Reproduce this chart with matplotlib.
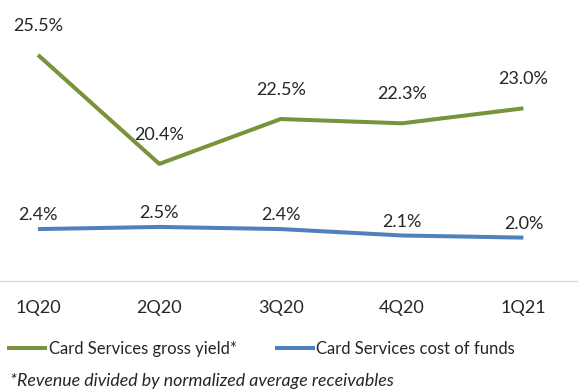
import matplotlib
matplotlib.use("Agg")
import matplotlib.pyplot as plt

quarters = ["1Q20", "2Q20", "3Q20", "4Q20", "1Q21"]
gross_yield = [25.5, 20.4, 22.5, 22.3, 23.0]
cost_of_funds = [2.4, 2.5, 2.4, 2.1, 2.0]

green = "#77933C"
blue = "#4F81BD"
txt = "#262626"

plt.rcParams["font.family"] = ["Lato", "DejaVu Sans"]

fig = plt.figure(figsize=(5.78, 3.92), dpi=100)
ax = fig.add_axes([0, 1 - 281 / 392, 1, 281 / 392])
ax2 = ax.twinx()

x = list(range(len(quarters)))

# green series on its own scale (broken axis look), blue on the other
g, = ax.plot(x, gross_yield, color=green, lw=2.9, solid_capstyle="butt")
b, = ax2.plot(x, cost_of_funds, color=blue, lw=2.9, solid_capstyle="butt")

ax.set_ylim(14.92, 28.07)
ax2.set_ylim(-0.03, 13.12)
ax.set_xlim(-0.313, 4.45)

for xi, v in zip(x, gross_yield):
    ax.annotate(f"{v:.1f}%", (xi, v), xytext=(0, 21), textcoords="offset points",
                ha="center", va="center", fontsize=13, color=txt)
for xi, v in zip(x, cost_of_funds):
    ax2.annotate(f"{v:.1f}%", (xi, v), xytext=(0, 10), textcoords="offset points",
                 ha="center", va="center", fontsize=13, color=txt)

for a in (ax, ax2):
    for s in ["top", "left", "right"]:
        a.spines[s].set_visible(False)
    a.set_yticks([])
ax2.spines["bottom"].set_visible(False)
ax.spines["bottom"].set_color("#d9d9d9")
ax.spines["bottom"].set_linewidth(1.0)

ax.set_xticks(x)
ax.set_xticklabels(quarters, fontsize=13, color=txt)
ax.tick_params(axis="x", length=0, pad=14)

fig.legend([g, b], ["Card Services gross yield*", "Card Services cost of funds"],
           loc="center left", bbox_to_anchor=(0.012, 1 - 349 / 392),
           ncol=2, frameon=False, fontsize=12, handlelength=2.4,
           handletextpad=0.1, columnspacing=2.3, borderpad=0, borderaxespad=0,
           labelcolor=txt)

fig.text(0.017, 1 - 381 / 392, "*Revenue divided by normalized average receivables",
         fontsize=12.8, style="italic", color=txt, va="center", ha="left")

fig.savefig("out.png", dpi=100)
